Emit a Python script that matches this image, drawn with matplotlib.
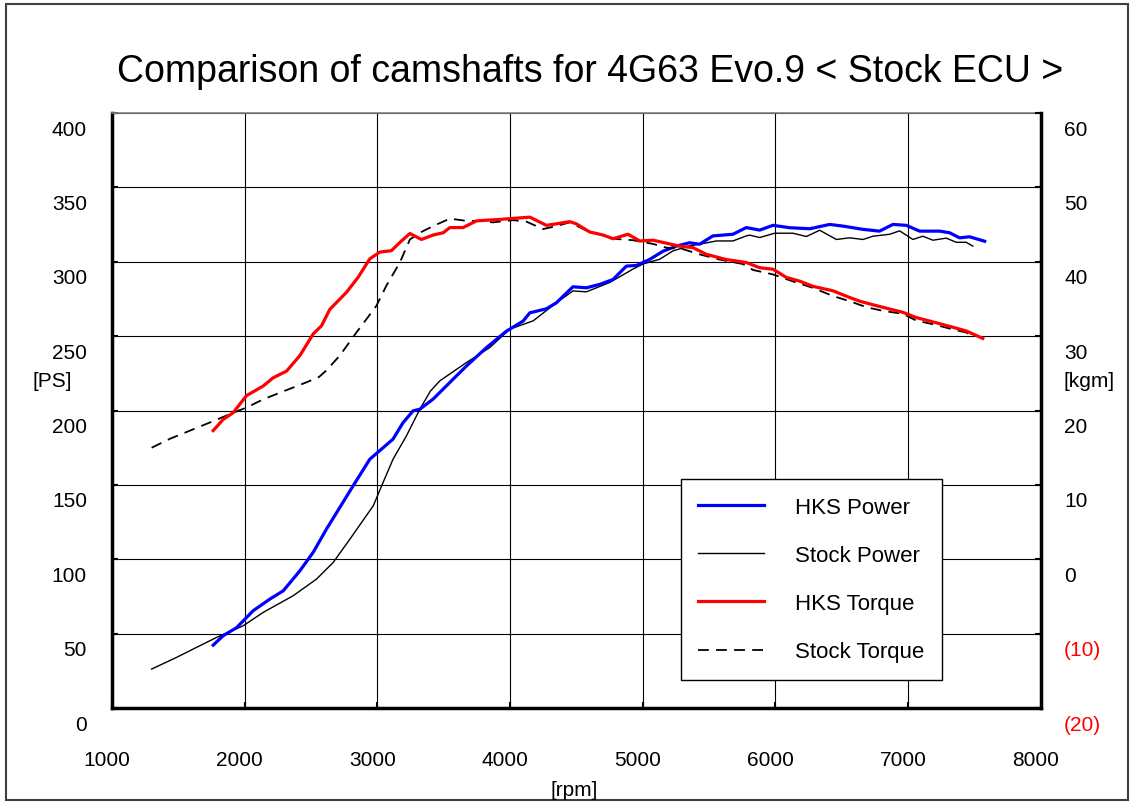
import matplotlib.pyplot as plt
import matplotlib as mpl
from matplotlib.transforms import ScaledTranslation
from matplotlib.patches import Rectangle

mpl.rcParams['font.family'] = ['Liberation Sans', 'DejaVu Sans']
mpl.rcParams['font.size'] = 15

# rpm vs PS (power) and kgm (torque)
hks_power_rpm = [1763, 1838, 1939, 2064, 2191, 2291, 2417, 2517, 2617, 2718, 2818, 2944, 3044, 3119,
                 3194, 3270, 3321, 3421, 3572, 3673, 3823, 3974, 4099, 4150, 4275, 4350, 4475, 4576,
                 4677, 4777, 4878, 4953, 5054, 5154, 5254, 5354, 5430, 5530, 5681, 5782, 5883, 5983,
                 6109, 6260, 6410, 6510, 6661, 6786, 6887, 6988, 7089, 7240, 7315, 7390, 7465, 7579]
hks_power_ps = [42.3, 48.6, 54.0, 65.4, 73.3, 78.8, 92.3, 104.7, 120.3, 134.9, 149.4, 167.3, 175.0, 180.8,
                191.8, 199.8, 200.9, 207.7, 221.1, 230.0, 242.3, 253.4, 260.1, 265.7, 268.4, 272.4, 283.2, 282.5,
                284.8, 288.1, 297.1, 297.5, 301.6, 307.1, 310.5, 312.8, 311.8, 317.4, 318.5, 323.0, 321.3, 324.5,
                322.9, 322.2, 325.1, 324.0, 321.8, 320.6, 325.1, 324.5, 320.6, 320.6, 319.5, 316.1, 316.8, 313.8]

stock_power_rpm = [1299, 1488, 1638, 1789, 1989, 2140, 2366, 2542, 2668, 2794, 2970, 3044, 3119, 3220,
                   3321, 3400, 3472, 3673, 3849, 3999, 4175, 4350, 4475, 4576, 4753, 4928, 5003, 5129, 5229,
                   5354, 5430, 5556, 5681, 5782, 5808, 5883, 5996, 6134, 6235, 6335, 6461, 6561, 6662,
                   6737, 6863, 6938, 7038, 7113, 7189, 7289, 7365, 7440, 7490]
stock_power_ps = [26.2, 34.1, 40.8, 47.5, 55.3, 64.3, 75.5, 86.7, 97.9, 113.6, 136.0, 151.7, 167.3, 183.0,
                  200.9, 213.0, 220.0, 232.3, 242.4, 254.7, 260.3, 272.4, 280.4, 279.8, 286.1, 295.1, 298.5, 301.7, 307.3,
                  310.7, 311.8, 314.0, 314.0, 317.4, 317.9, 316.3, 319.2, 319.2, 317.0, 321.2, 315.0, 316.1, 315.0,
                  317.2, 318.5, 320.8, 315.0, 317.2, 314.5, 315.9, 313.1, 313.1, 310.5]

hks_torque_rpm = [1763, 1838, 1913, 2014, 2140, 2215, 2316, 2417, 2517, 2580, 2642, 2768, 2855, 2944,
                  3019, 3107, 3170, 3246, 3333, 3421, 3497, 3547, 3647, 3748, 3924, 4150, 4275, 4350,
                  4451, 4501, 4602, 4702, 4777, 4890, 4979, 5079, 5180, 5280, 5380, 5481, 5632, 5782,
                  5883, 5983, 6084, 6184, 6284, 6435, 6561, 6637, 6762, 6963, 7063, 7214, 7339, 7440, 7565]
hks_torque_kgm = [17.3, 18.8, 19.7, 22.0, 23.3, 24.4, 25.3, 27.4, 30.3, 31.4, 33.6, 35.9, 37.9, 40.4,
                  41.3, 41.5, 42.6, 43.8, 43.0, 43.6, 43.9, 44.6, 44.6, 45.5, 45.7, 46.0, 44.9, 45.1,
                  45.4, 45.1, 44.0, 43.6, 43.1, 43.7, 42.8, 42.9, 42.5, 42.1, 41.9, 41.0, 40.3, 39.9,
                  39.2, 39.0, 37.9, 37.4, 36.7, 36.1, 35.2, 34.7, 34.1, 33.2, 32.5, 31.8, 31.2, 30.7, 29.7]

stock_torque_rpm = [1299, 1437, 1588, 1739, 1914, 2014, 2140, 2266, 2467, 2560, 2617, 2718, 2843, 2919, 2994,
                    3069, 3170, 3246, 3321, 3421, 3547, 3673, 3773, 3873, 4024, 4124, 4250, 4350, 4451,
                    4576, 4677, 4777, 4928, 5079, 5180, 5305, 5430, 5580, 5756, 5833, 5983, 6159, 6284,
                    6435, 6561, 6687, 6812, 6963, 7063, 7214, 7339, 7440, 7490]
stock_torque_kgm = [15.0, 16.2, 17.3, 18.4, 19.7, 20.4, 21.5, 22.4, 23.8, 24.5, 25.4, 27.4, 30.5, 32.3, 34.1,
                    36.8, 39.9, 43.0, 43.9, 44.8, 45.8, 45.5, 45.5, 45.3, 45.6, 45.4, 44.4, 44.8, 45.3,
                    44.2, 43.7, 43.1, 42.9, 42.4, 41.9, 41.7, 41.0, 40.3, 39.7, 38.9, 38.3, 37.2, 36.5,
                    35.4, 34.7, 33.9, 33.4, 33.0, 32.1, 31.5, 30.9, 30.5, 29.8]

x_ticks = [1000, 2000, 3000, 4000, 5000, 6000, 7000, 8000]
ps_ticks = [0, 50, 100, 150, 200, 250, 300, 350, 400]
kgm_ticks = [-20, -10, 0, 10, 20, 30, 40, 50, 60]
kgm_labels = ['(20)', '(10)', '0', '10', '20', '30', '40', '50', '60']

fig = plt.figure(figsize=(11.31, 8.03), dpi=100)
fig.patches.append(Rectangle((0.005, 0.003), 0.992, 0.991, transform=fig.transFigure,
                             fill=False, edgecolor='#404040', linewidth=1.5))

ax = fig.add_axes([0.099, 0.117, 0.821, 0.741])
ax2 = ax.twinx()

ax.plot(hks_power_rpm, hks_power_ps, color='#0000ff', lw=2.3, label='HKS Power', zorder=4)
ax.plot(stock_power_rpm, stock_power_ps, color='black', lw=1.0, label='Stock Power', zorder=3)
ax2.plot(hks_torque_rpm, hks_torque_kgm, color='#ff0000', lw=2.3, label='HKS Torque', zorder=4)
ax2.plot(stock_torque_rpm, stock_torque_kgm, color='black', lw=1.3, dashes=(6, 4), label='Stock Torque', zorder=3)

ax.set_xlim(1000, 8000)
ax.set_ylim(0, 400)
ax2.set_ylim(-20, 60)
ax.set_xticks(x_ticks)
ax.set_yticks(ps_ticks)
ax2.set_yticks(kgm_ticks)
ax2.set_yticklabels(kgm_labels)
for lab, v in zip(ax2.get_yticklabels(), kgm_ticks):
    if v < 0:
        lab.set_color('#ff0000')

ax.grid(True, color='black', lw=0.8)
ax.set_axisbelow(True)
for s in ['left', 'bottom']:
    ax.spines[s].set_linewidth(2.5)
ax2.spines['right'].set_linewidth(2.5)
ax2.spines['left'].set_visible(False)
ax2.spines['bottom'].set_visible(False)
ax.spines['top'].set_color('#808080')
ax.spines['top'].set_linewidth(1.2)
ax2.spines['top'].set_visible(False)
ax.spines['right'].set_visible(False)

ax.tick_params(axis='x', direction='in', length=4, width=1.5, pad=30)
ax.tick_params(axis='y', direction='in', length=4, width=1.5, pad=18)
ax2.tick_params(axis='y', direction='in', length=4, width=1.5, pad=17)

# labels sit a bit below the grid lines on the original sheet
shift = ScaledTranslation(0, -14 / 100, fig.dpi_scale_trans)
for t in ax.yaxis.get_major_ticks():
    t.label1.set_transform(t.label1.get_transform() + shift)
for t in ax2.yaxis.get_major_ticks():
    t.label2.set_transform(t.label2.get_transform() + shift)
xshift = ScaledTranslation(-5 / 100, 0, fig.dpi_scale_trans)
for t in ax.xaxis.get_major_ticks():
    t.label1.set_transform(t.label1.get_transform() + xshift)

fig.text(0.522, 0.910, 'Comparison of camshafts for 4G63 Evo.9 < Stock ECU >',
         ha='center', va='center', fontsize=27)
fig.text(0.046, 0.525, '[PS]', ha='center', va='center', fontsize=15)
fig.text(0.963, 0.525, '[kgm]', ha='center', va='center', fontsize=15)
fig.text(0.508, 0.016, '[rpm]', ha='center', va='center', fontsize=15)

h1, l1 = ax.get_legend_handles_labels()
h2, l2 = ax2.get_legend_handles_labels()
leg = ax2.legend(h1 + h2, l1 + l2, loc='lower left', bbox_to_anchor=(0.6125, 0.047),
                 frameon=True, fancybox=False, edgecolor='black', framealpha=1,
                 handlelength=2.95, handletextpad=1.4, labelspacing=1.22,
                 borderpad=0.8, borderaxespad=0, fontsize=16)
leg.get_frame().set_linewidth(1.0)
leg.set_zorder(10)

fig.savefig('out.png', dpi=100)
